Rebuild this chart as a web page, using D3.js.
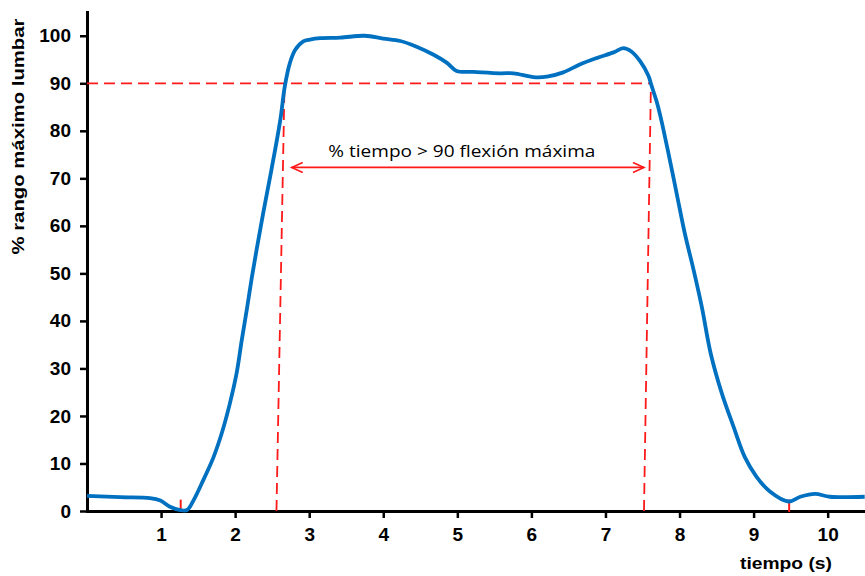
<!DOCTYPE html>
<html>
<head>
<meta charset="utf-8">
<script src="https://cdn.jsdelivr.net/npm/d3@7/dist/d3.min.js"></script>
<style>
  html, body { margin: 0; padding: 0; background: #fff; }
  svg { display: block; }
</style>
</head>
<body>
<svg id="chart" width="865" height="576"></svg>
<script>
// Lumbar flexion trace: time (s) and % of maximum lumbar range
const timeS = [0, 0.45, 0.85, 0.99, 1.12, 1.26, 1.35, 1.44, 1.57, 1.71, 1.82, 1.93, 2.02, 2.09, 2.16,
  2.22, 2.29, 2.38, 2.49, 2.61, 2.67, 2.74, 2.81, 2.92, 3.01, 3.15, 3.42, 3.75, 4.0, 4.23, 4.45,
  4.68, 4.86, 4.99, 5.22, 5.58, 5.76, 6.03, 6.21, 6.43, 6.66, 6.88, 7.11, 7.24, 7.35, 7.47, 7.58,
  7.62, 7.69, 7.74, 7.85, 7.96, 8.07, 8.19, 8.30, 8.42, 8.57, 8.73, 8.88, 9.04, 9.22, 9.47, 9.63,
  9.83, 10.03, 10.5];
const rangePct = [3.2, 2.9, 2.7, 2.2, 0.9, 0.2, 0.2, 2.3, 6.5, 11.4, 16.4, 22.7, 29.0, 36.0, 42.6,
  48.6, 55.0, 62.8, 71.8, 82.3, 89.3, 94.3, 97.0, 98.8, 99.2, 99.5, 99.6, 100.0, 99.4, 98.9, 97.7,
  96.0, 94.3, 92.6, 92.4, 92.1, 92.1, 91.3, 91.4, 92.3, 94.0, 95.3, 96.5, 97.4, 96.7, 94.6, 91.6,
  89.6, 86.2, 83.2, 75.3, 66.9, 58.5, 50.7, 43.0, 33.2, 24.8, 17.7, 11.4, 7.2, 4.1, 2.0, 3.0,
  3.6, 3.0, 3.0];

// Axis ticks
const xTicks = [1, 2, 3, 4, 5, 6, 7, 8, 9, 10];
const yTicks = [0, 10, 20, 30, 40, 50, 60, 70, 80, 90, 100];

// Threshold annotation: 90 % line, crossing times, movement start/end marks
const threshold = 90;
const crossStart = [2.558, 2.667];   // dashed drop line, bottom -> top
const crossEnd = [7.52, 7.614];
const movementMarks = [1.265, 9.48];
const markHeight = 2.4;
const arrowSpan = [2.764, 7.52];
const arrowLevel = 72.3;
const annotationText = "% tiempo > 90 flexión máxima";

const svg = d3.select("#chart");
const x = d3.scaleLinear().domain([0, 10.5]).range([87, 864.7]);
const y = d3.scaleLinear().domain([0, 105]).range([511, 12]);

const red = "#ff1a1a";
const blue = "#0070c0";

// Axes
const xAxis = d3.axisBottom(x).tickValues(xTicks).tickSize(7).tickSizeOuter(0).tickPadding(10)
  .tickFormat(d3.format("d"));
const yAxis = d3.axisLeft(y).tickValues(yTicks).tickSize(7).tickSizeOuter(0).tickPadding(9)
  .tickFormat(d3.format("d"));

const gx = svg.append("g").attr("transform", `translate(0,${y(0)})`).call(xAxis);
const gy = svg.append("g").attr("transform", `translate(${x(0)},0)`).call(yAxis);

[gx, gy].forEach(g => {
  g.select(".domain").attr("stroke", "#000").attr("stroke-width", 3).attr("stroke-linecap", "square");
  g.selectAll(".tick line").attr("stroke", "#000").attr("stroke-width", 2.5);
  g.selectAll(".tick text")
    .attr("fill", "#000")
    .style("font-family", "'Liberation Sans', Arial, sans-serif")
    .style("font-weight", "bold")
    .style("font-size", "19px");
});

// Axis titles
svg.append("text")
  .attr("transform", `translate(24,${(y(0) + y(105)) / 2 - 125}) rotate(-90)`)
  .attr("text-anchor", "middle")
  .attr("textLength", 236)
  .attr("lengthAdjust", "spacingAndGlyphs")
  .style("font-family", "'Liberation Sans', Arial, sans-serif")
  .style("font-weight", "bold")
  .style("font-size", "16px")
  .text("% rango máximo lumbar");

svg.append("text")
  .attr("x", 832)
  .attr("y", 569)
  .attr("text-anchor", "end")
  .attr("textLength", 92)
  .attr("lengthAdjust", "spacingAndGlyphs")
  .style("font-family", "'Liberation Sans', Arial, sans-serif")
  .style("font-weight", "bold")
  .style("font-size", "17px")
  .text("tiempo (s)");

// Threshold dashed lines
const dash = "11,6";
svg.append("line")
  .attr("x1", x(0)).attr("x2", x(crossEnd[1]))
  .attr("y1", y(threshold)).attr("y2", y(threshold))
  .attr("stroke", red).attr("stroke-width", 1.8).attr("stroke-dasharray", dash);

[crossStart, crossEnd].forEach(c => {
  svg.append("line")
    .attr("x1", x(c[0])).attr("y1", y(0))
    .attr("x2", x(c[1])).attr("y2", y(threshold))
    .attr("stroke", red).attr("stroke-width", 1.8).attr("stroke-dasharray", dash);
});

// Start/end of movement marks
svg.selectAll(".mark").data(movementMarks).enter().append("line")
  .attr("x1", d => x(d)).attr("x2", d => x(d))
  .attr("y1", y(0) + 1).attr("y2", y(markHeight))
  .attr("stroke", red).attr("stroke-width", 2);

// Double-headed arrow
const ay = y(arrowLevel);
const ax1 = x(arrowSpan[0]), ax2 = x(arrowSpan[1]);
svg.append("line")
  .attr("x1", ax1).attr("x2", ax2).attr("y1", ay).attr("y2", ay)
  .attr("stroke", red).attr("stroke-width", 1.6);
svg.append("path")
  .attr("d", `M${ax1 + 11},${ay - 5} L${ax1},${ay} L${ax1 + 11},${ay + 5}`)
  .attr("fill", "none").attr("stroke", red).attr("stroke-width", 1.6);
svg.append("path")
  .attr("d", `M${ax2 - 11},${ay - 5} L${ax2},${ay} L${ax2 - 11},${ay + 5}`)
  .attr("fill", "none").attr("stroke", red).attr("stroke-width", 1.6);

svg.append("text")
  .attr("x", (ax1 + ax2) / 2 - 6)
  .attr("y", ay - 10)
  .attr("text-anchor", "middle")
  .attr("textLength", 267)
  .attr("lengthAdjust", "spacingAndGlyphs")
  .style("font-family", "'Open Sans', 'Liberation Sans', sans-serif")
  .style("font-size", "17px")
  .attr("fill", "#000")
  .text(annotationText);

// Flexion trace
const series = timeS.map((t, i) => ({ t, v: rangePct[i] }));
const line = d3.line().x(d => x(d.t)).y(d => y(d.v)).curve(d3.curveCatmullRom.alpha(0.5));
svg.append("path")
  .datum(series)
  .attr("d", line)
  .attr("fill", "none")
  .attr("stroke", blue)
  .attr("stroke-width", 3.8)
  .attr("stroke-linejoin", "round");
</script>
</body>
</html>
